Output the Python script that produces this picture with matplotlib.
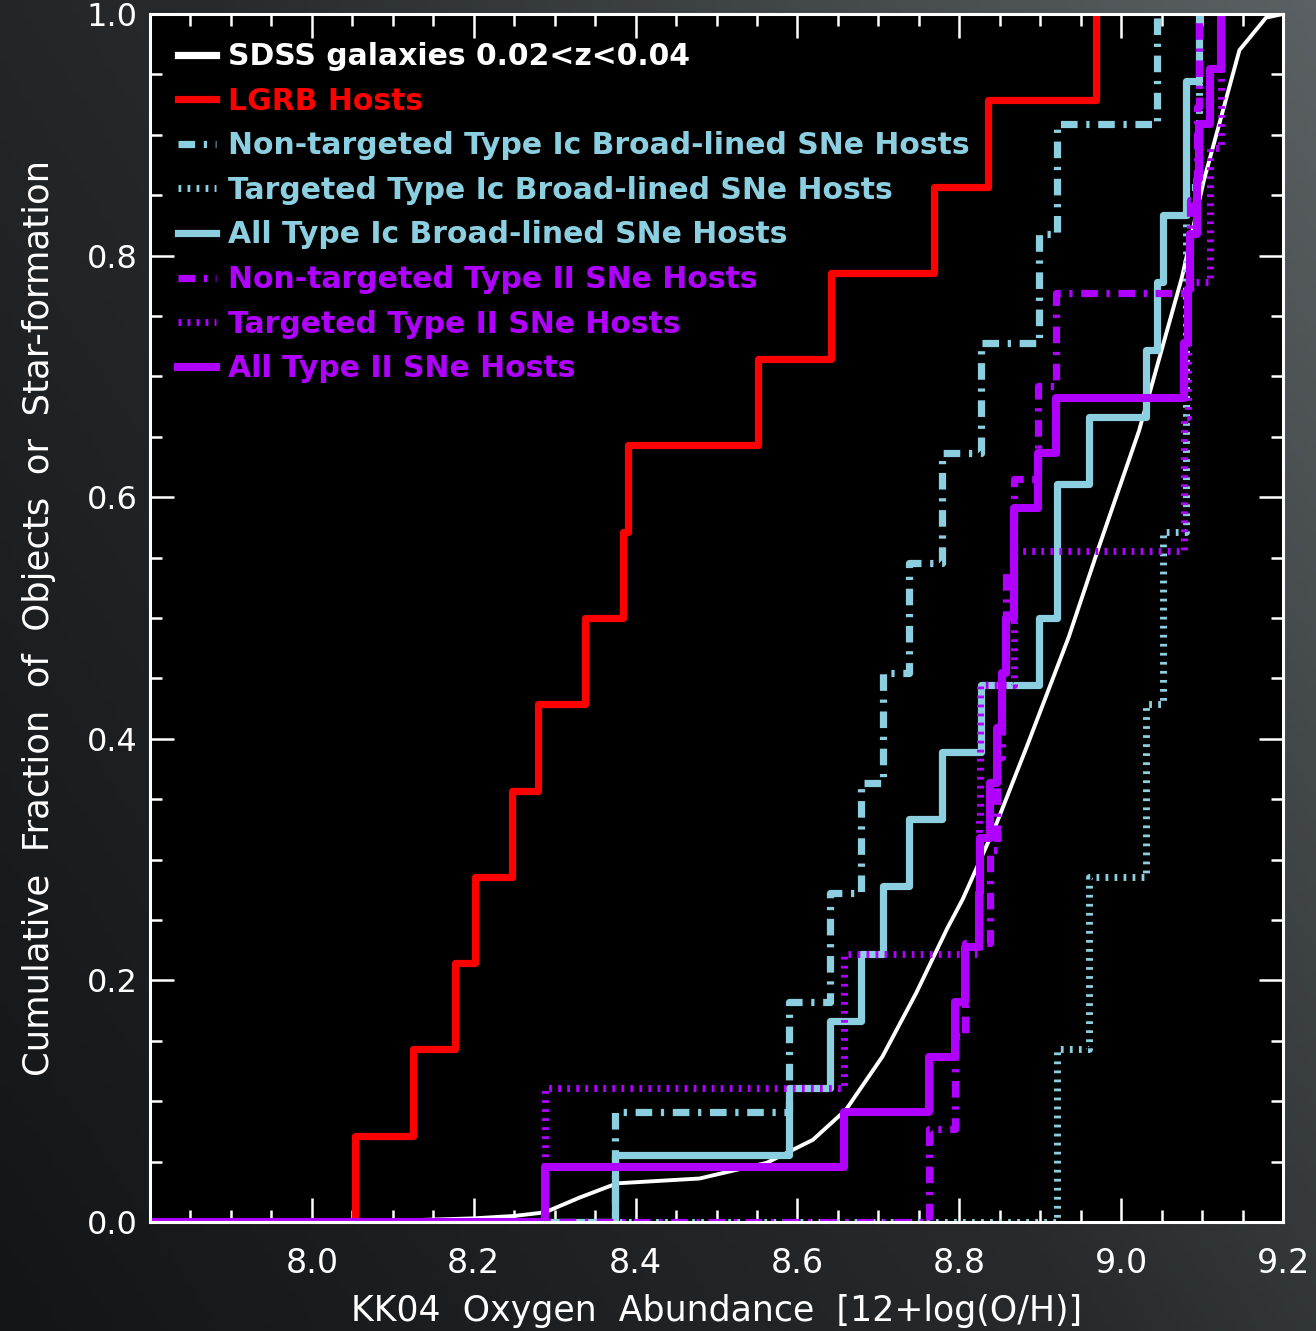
import numpy as np
import matplotlib.pyplot as plt
from matplotlib.colors import LinearSegmentedColormap
from matplotlib.ticker import MultipleLocator

# Metallicities (KK04, 12+log(O/H))
lgrb = [8.053, 8.125, 8.177, 8.201, 8.247, 8.279, 8.338, 8.384, 8.390,
        8.551, 8.642, 8.769, 8.835, 8.969]
ic_nt = [8.374, 8.590, 8.640, 8.679, 8.706, 8.738, 8.779, 8.827, 8.899,
         8.921, 9.044]
ic_t = [8.921, 8.960, 9.031, 9.052, 9.080, 9.080, 9.096]
ic_all = [8.374, 8.590, 8.640, 8.679, 8.706, 8.738, 8.779, 8.827, 8.899,
          8.921, 8.921, 8.960, 9.031, 9.044, 9.052, 9.080, 9.080, 9.096]
ii_nt = [8.763, 8.794, 8.807, 8.838, 8.846, 8.853, 8.858, 8.868, 8.897,
         8.920, 9.085, 9.093, 9.096]
ii_t = [8.288, 8.658, 8.824, 8.826, 8.868, 9.078, 9.082, 9.110, 9.123]
ii_all = [8.288, 8.658, 8.763, 8.794, 8.807, 8.824, 8.826, 8.838, 8.846,
          8.853, 8.858, 8.868, 8.868, 8.897, 8.920, 9.078, 9.082, 9.085,
          9.093, 9.096, 9.110, 9.123]

# SDSS cumulative curve
sdss_x = [7.80, 8.10, 8.20, 8.25, 8.288, 8.33, 8.377, 8.479, 8.562, 8.619,
          8.660, 8.705, 8.747, 8.785, 8.804, 8.846, 8.883, 8.935, 8.973,
          9.022, 9.075, 9.102, 9.146, 9.179, 9.20]
sdss_y = [0.0, 0.001, 0.003, 0.005, 0.008, 0.020, 0.032, 0.036, 0.049, 0.068,
          0.093, 0.137, 0.190, 0.243, 0.267, 0.330, 0.393, 0.484, 0.560,
          0.655, 0.782, 0.862, 0.970, 0.997, 1.0]

# 7.8 carries a tick but no label
xtick_vals = [7.8, 8.0, 8.2, 8.4, 8.6, 8.8, 9.0, 9.2]
xtick_labels = ['', '8.0', '8.2', '8.4', '8.6', '8.8', '9.0', '9.2']

XMIN, XMAX = 7.8, 9.2
RED = '#ff0000'
BLUE = '#8ccfe0'
PURPLE = '#b000ff'

DASHDOT = (0, (2.3, 1.2, 0.45, 1.2))
DOTTED = (0, (0.4, 0.9))

fig = plt.figure(figsize=(13.16, 13.31), dpi=100)

# dark gradient backdrop
bg = fig.add_axes([0, 0, 1, 1], zorder=0)
gx, gy = np.meshgrid(np.linspace(0, 1, 200), np.linspace(0, 1, 200))
grad = 0.6 * gx + 0.4 * gy
cmap = LinearSegmentedColormap.from_list('bg', ['#131618', '#272b2e', '#5a6063'])
bg.imshow(grad, cmap=cmap, origin='lower', extent=[0, 1, 0, 1], aspect='auto')
bg.axis('off')

ax = fig.add_axes([0.114, 0.0819, 0.861, 0.9076], zorder=1)
ax.set_facecolor('black')


def cum(ax, vals, **kw):
    v = np.sort(np.asarray(vals))
    frac = np.arange(1, len(v) + 1) / len(v)
    x = np.concatenate([[XMIN], v])
    y = np.concatenate([[0.0], frac])
    return ax.step(x, y, where='post', dash_capstyle='butt', **kw)[0]


ax.plot(sdss_x, sdss_y, color='white', lw=2.8, label='SDSS galaxies 0.02<z<0.04')
cum(ax, lgrb, color=RED, lw=5.2, label='LGRB Hosts')
cum(ax, ic_nt, color=BLUE, lw=5.2, ls=DASHDOT, label='Non-targeted Type Ic Broad-lined SNe Hosts')
cum(ax, ic_t, color=BLUE, lw=5.0, ls=DOTTED, label='Targeted Type Ic Broad-lined SNe Hosts')
cum(ax, ic_all, color=BLUE, lw=5.2, label='All Type Ic Broad-lined SNe Hosts')
cum(ax, ii_nt, color=PURPLE, lw=5.2, ls=DASHDOT, label='Non-targeted Type II SNe Hosts')
cum(ax, ii_t, color=PURPLE, lw=5.0, ls=DOTTED, label='Targeted Type II SNe Hosts')
cum(ax, ii_all, color=PURPLE, lw=5.8, label='All Type II SNe Hosts')

ax.set_xlim(XMIN, XMAX)
ax.set_ylim(0, 1.0)
ax.set_xticks(xtick_vals, xtick_labels)
ax.xaxis.set_minor_locator(MultipleLocator(0.05))
ax.yaxis.set_major_locator(MultipleLocator(0.2))
ax.yaxis.set_minor_locator(MultipleLocator(0.05))
ax.tick_params(which='both', direction='in', top=True, right=True,
               color='white', labelcolor='white', width=1.8)
ax.tick_params(which='major', length=17)
ax.tick_params(which='minor', length=8.5)
ax.tick_params(axis='x', which='major', pad=18, labelsize=24)
ax.tick_params(axis='y', which='major', pad=9, labelsize=23)
for s in ax.spines.values():
    s.set_color('white')
    s.set_linewidth(2.2)

ax.set_xlabel('KK04  Oxygen  Abundance  [12+log(O/H)]', color='white',
              fontsize=25, labelpad=10)
ax.set_ylabel('Cumulative  Fraction  of  Objects  or  Star-formation', color='white',
              fontsize=25.5, labelpad=22)

leg = ax.legend(loc='upper left', frameon=False, handlelength=1.25,
                handletextpad=0.4, labelspacing=0.52, borderaxespad=0.55,
                borderpad=0.4,
                prop={'family': 'DejaVu Sans', 'size': 21.5, 'weight': 'bold'},
                labelcolor='linecolor')
# the SDSS entry shows a thick bar like the others
leg.get_lines()[0].set_linewidth(5.2)

fig.savefig('out.png', dpi=100, facecolor='#272b2e')
